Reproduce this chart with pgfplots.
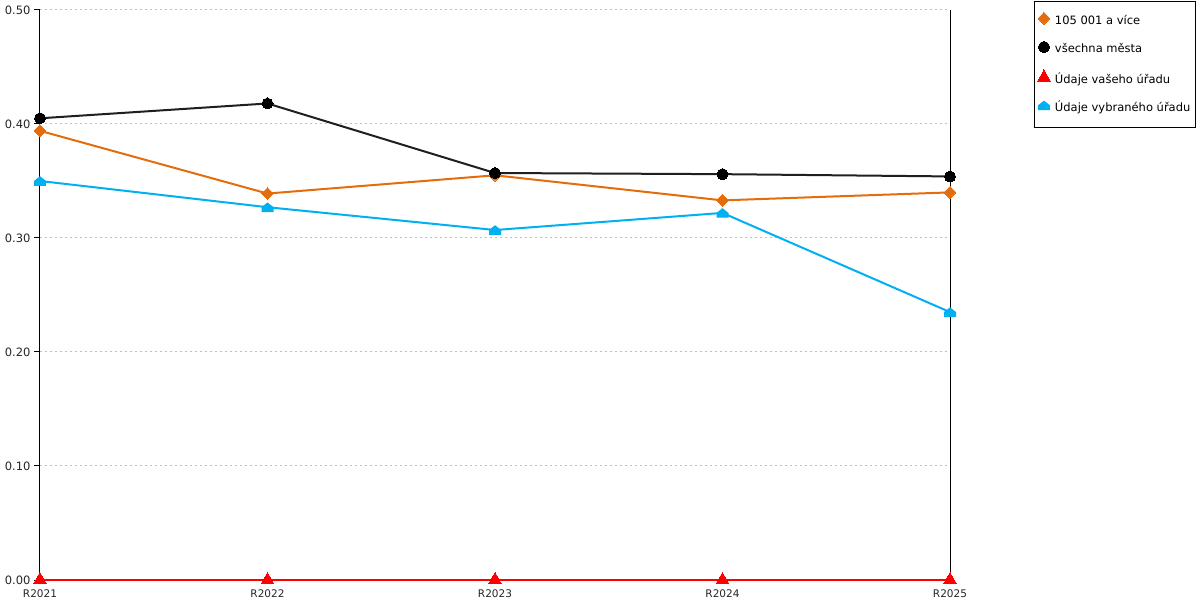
\documentclass[border=0pt]{standalone}
\usepackage{fontspec}
\setmainfont{DejaVu Sans}
\usepackage{pgfplots}
\pgfplotsset{compat=1.18}
\definecolor{cOr}{HTML}{E46C0A}
\definecolor{cBk}{HTML}{000000}
\definecolor{cRd}{HTML}{FF0000}
\definecolor{cBl}{HTML}{00B0F0}
\definecolor{cGr}{HTML}{C0C0C0}
\pgfdeclareplotmark{house}{%
 \pgfpathmoveto{\pgfqpoint{-\pgfplotmarksize}{-0.8\pgfplotmarksize}}%
 \pgfpathlineto{\pgfqpoint{\pgfplotmarksize}{-0.8\pgfplotmarksize}}%
 \pgfpathlineto{\pgfqpoint{\pgfplotmarksize}{0pt}}%
 \pgfpathlineto{\pgfqpoint{0pt}{0.8\pgfplotmarksize}}%
 \pgfpathlineto{\pgfqpoint{-\pgfplotmarksize}{0pt}}%
 \pgfpathclose\pgfusepathqfill}
\begin{document}
\begin{tikzpicture}[x=1pt,y=1pt]
\useasboundingbox (0,0) rectangle (1200,600);
\begin{axis}[
  at={(40pt,20pt)}, anchor=south west,
  scale only axis, width=910pt, height=570pt,
  xmin=0, xmax=4, ymin=0, ymax=0.5,
  axis x line*=bottom,
  axis line style={line width=1pt, black},
  /pgf/number format/assume math mode=true,
  xtick={0,1,2,3,4},
  xticklabels={R2021,R2022,R2023,R2024,R2025},
  x tick style={draw=none},
  extra x ticks={0.5,1.5,2.5,3.5},
  extra x tick labels={},
  extra x tick style={tick style={draw=black, line width=1pt}, tick align=center, major tick length=9pt, grid=none},
  xticklabel style={yshift=0pt, text=black!85, font=\fontsize{10.5}{12}\selectfont},
  ytick={0,0.1,0.2,0.3,0.4,0.5},
  yticklabel style={/pgf/number format/.cd, fixed, fixed zerofill, precision=2, /tikz/.cd, text=black!85, font=\fontsize{11.5}{13}\selectfont},
  ytick pos=left,
  y tick style={line width=1pt, black},
  tick align=outside,
  major tick length=6pt,
  ymajorgrids,
  grid style={cGr, line width=1pt, dash pattern=on 2pt off 3pt},
  legend style={at={(1.0923,1.0158)}, anchor=north west, draw=black, line width=1pt,
     inner xsep=3pt, inner ysep=11pt, row sep=12pt,
     nodes={text height=9pt, text depth=3pt, line width=1pt},
     font=\fontsize{11.5}{13}\selectfont},
  legend cell align=left,
  legend image code/.code={\path[draw=none,fill=none] (0pt,3pt) -- (15pt,3pt); \draw[#1, only marks] plot coordinates {(6pt,3pt)};},
]
\addplot[cOr, line width=2pt, mark=square*, mark size=4.2pt, mark options={rotate=45, line width=0pt}] coordinates {(0,0.394) (1,0.339) (2,0.355) (3,0.333) (4,0.340)};
\addlegendentry{105 001 a více}
\addplot[cBk!88, line width=2pt, mark=*, mark size=5.5pt, mark options={black, line width=0pt}] coordinates {(0,0.405) (1,0.418) (2,0.357) (3,0.356) (4,0.354)};
\addlegendentry{všechna města}
\addplot[cRd, line width=2pt, mark=triangle*, mark size=7.5pt, mark options={line width=0pt}] coordinates {(0,0) (1,0) (2,0) (3,0) (4,0)};
\addlegendentry{Údaje vašeho úřadu}
\addplot[cBl, line width=2pt, mark=house, mark size=6pt, mark options={line width=0pt}] coordinates {(0,0.350) (1,0.327) (2,0.307) (3,0.322) (4,0.235)};
\addlegendentry{Údaje vybraného úřadu}
\end{axis}
\end{tikzpicture}
\end{document}
